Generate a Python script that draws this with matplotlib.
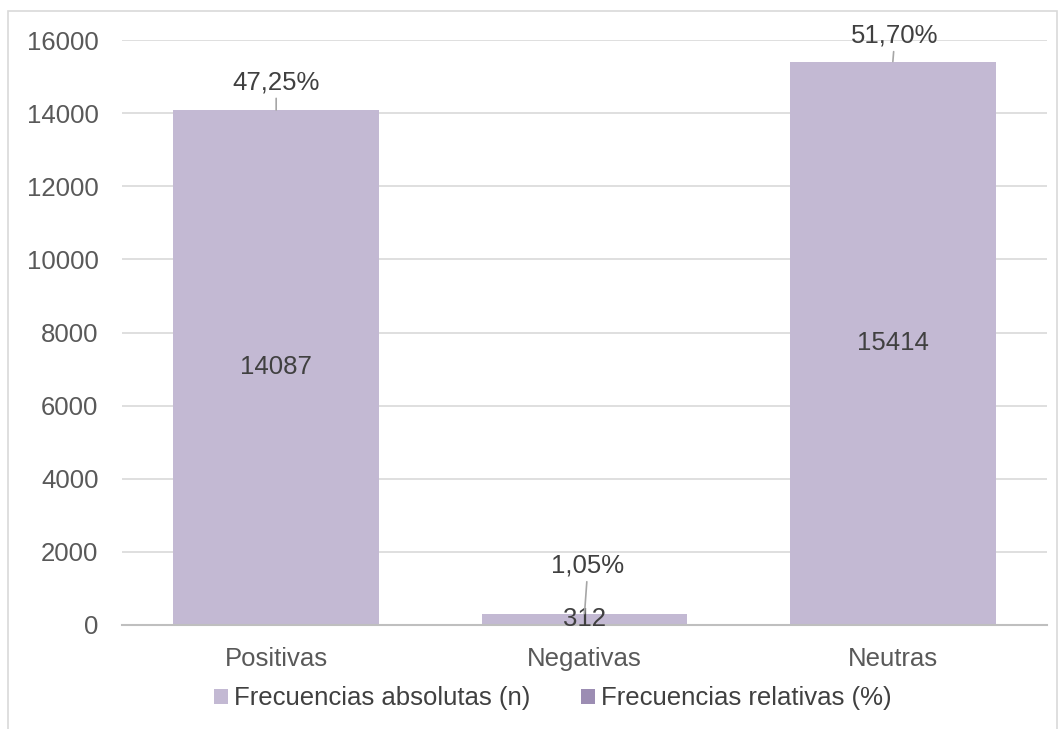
import matplotlib
matplotlib.use("Agg")
import matplotlib.pyplot as plt
from matplotlib.patches import Patch, Rectangle

categories = ["Positivas", "Negativas", "Neutras"]
abs_values = [14087, 312, 15414]
rel_values = [47.25, 1.05, 51.70]
rel_labels = ["47,25%", "1,05%", "51,70%"]
yticks = [0, 2000, 4000, 6000, 8000, 10000, 12000, 14000, 16000]
series_names = ["Frecuencias absolutas (n)", "Frecuencias relativas (%)"]

bar_color = "#C3B9D3"
rel_color = "#9C8DB3"
text_color = "#404040"
tick_color = "#595959"

plt.rcParams['font.family'] = ['Liberation Sans', 'DejaVu Sans']

fig = plt.figure(figsize=(10.59, 7.29), dpi=100)
ax = fig.add_axes([0.1152, 0.1427, 0.8735, 0.8023])

x = list(range(len(categories)))
# relative series (tiny heights on the same scale), drawn behind
ax.bar(x, rel_values, width=0.667, color=rel_color, zorder=1)
bars = ax.bar(x, abs_values, width=0.667, color=bar_color, zorder=2)

ax.set_xlim(-0.5, 2.5)
ax.set_ylim(0, 16000)
ax.set_yticks(yticks)
ax.set_yticklabels([str(v) for v in yticks])
ax.set_xticks(x)
ax.set_xticklabels(categories)
ax.tick_params(axis='y', length=0, pad=17, labelsize=18.5, labelcolor=tick_color)
ax.tick_params(axis='x', length=0, pad=16, labelsize=18.5, labelcolor=tick_color)

ax.grid(axis='y', color='#D9D9D9', linewidth=1.2, zorder=0)
ax.set_axisbelow(True)
for s in ['top', 'right', 'left']:
    ax.spines[s].set_visible(False)
ax.spines['bottom'].set_color('#BFBFBF')
ax.spines['bottom'].set_linewidth(1.5)
ax.spines['bottom'].set_zorder(3)

# value labels in the center of bars
for xi, v in zip(x, abs_values):
    ax.text(xi, v / 2, str(v), ha='center', va='center', fontsize=18.5,
            color=text_color, zorder=5)

# percentage labels with leader lines
offsets = [(0, 15), (2.5, 29.5), (1.5, 13.7)]
for xi, v, lab, off in zip(x, abs_values, rel_labels, offsets):
    ax.annotate(lab, xy=(xi, v), xytext=off, textcoords='offset points',
                ha='center', va='baseline', fontsize=18.5, color=text_color,
                arrowprops=dict(arrowstyle='-', color='#A6A6A6', lw=1.2,
                                shrinkA=1, shrinkB=0),
                zorder=5, annotation_clip=False)

handles = [Patch(facecolor=bar_color, edgecolor='none'),
           Patch(facecolor=rel_color, edgecolor='none')]
fig.legend(handles, series_names, loc='center', bbox_to_anchor=(0.522, 0.042),
           ncol=2, frameon=False, fontsize=18.5, labelcolor=text_color,
           handlelength=0.55, handleheight=0.55, handletextpad=0.2,
           columnspacing=2.0)

fig.patches.append(Rectangle((8 / 1059, -0.01), 1049 / 1059, 1 - 11 / 729 + 0.01,
                             transform=fig.transFigure, fill=False,
                             edgecolor='#D9D9D9', linewidth=1.2))

fig.savefig("out.png", dpi=100, facecolor='white')
